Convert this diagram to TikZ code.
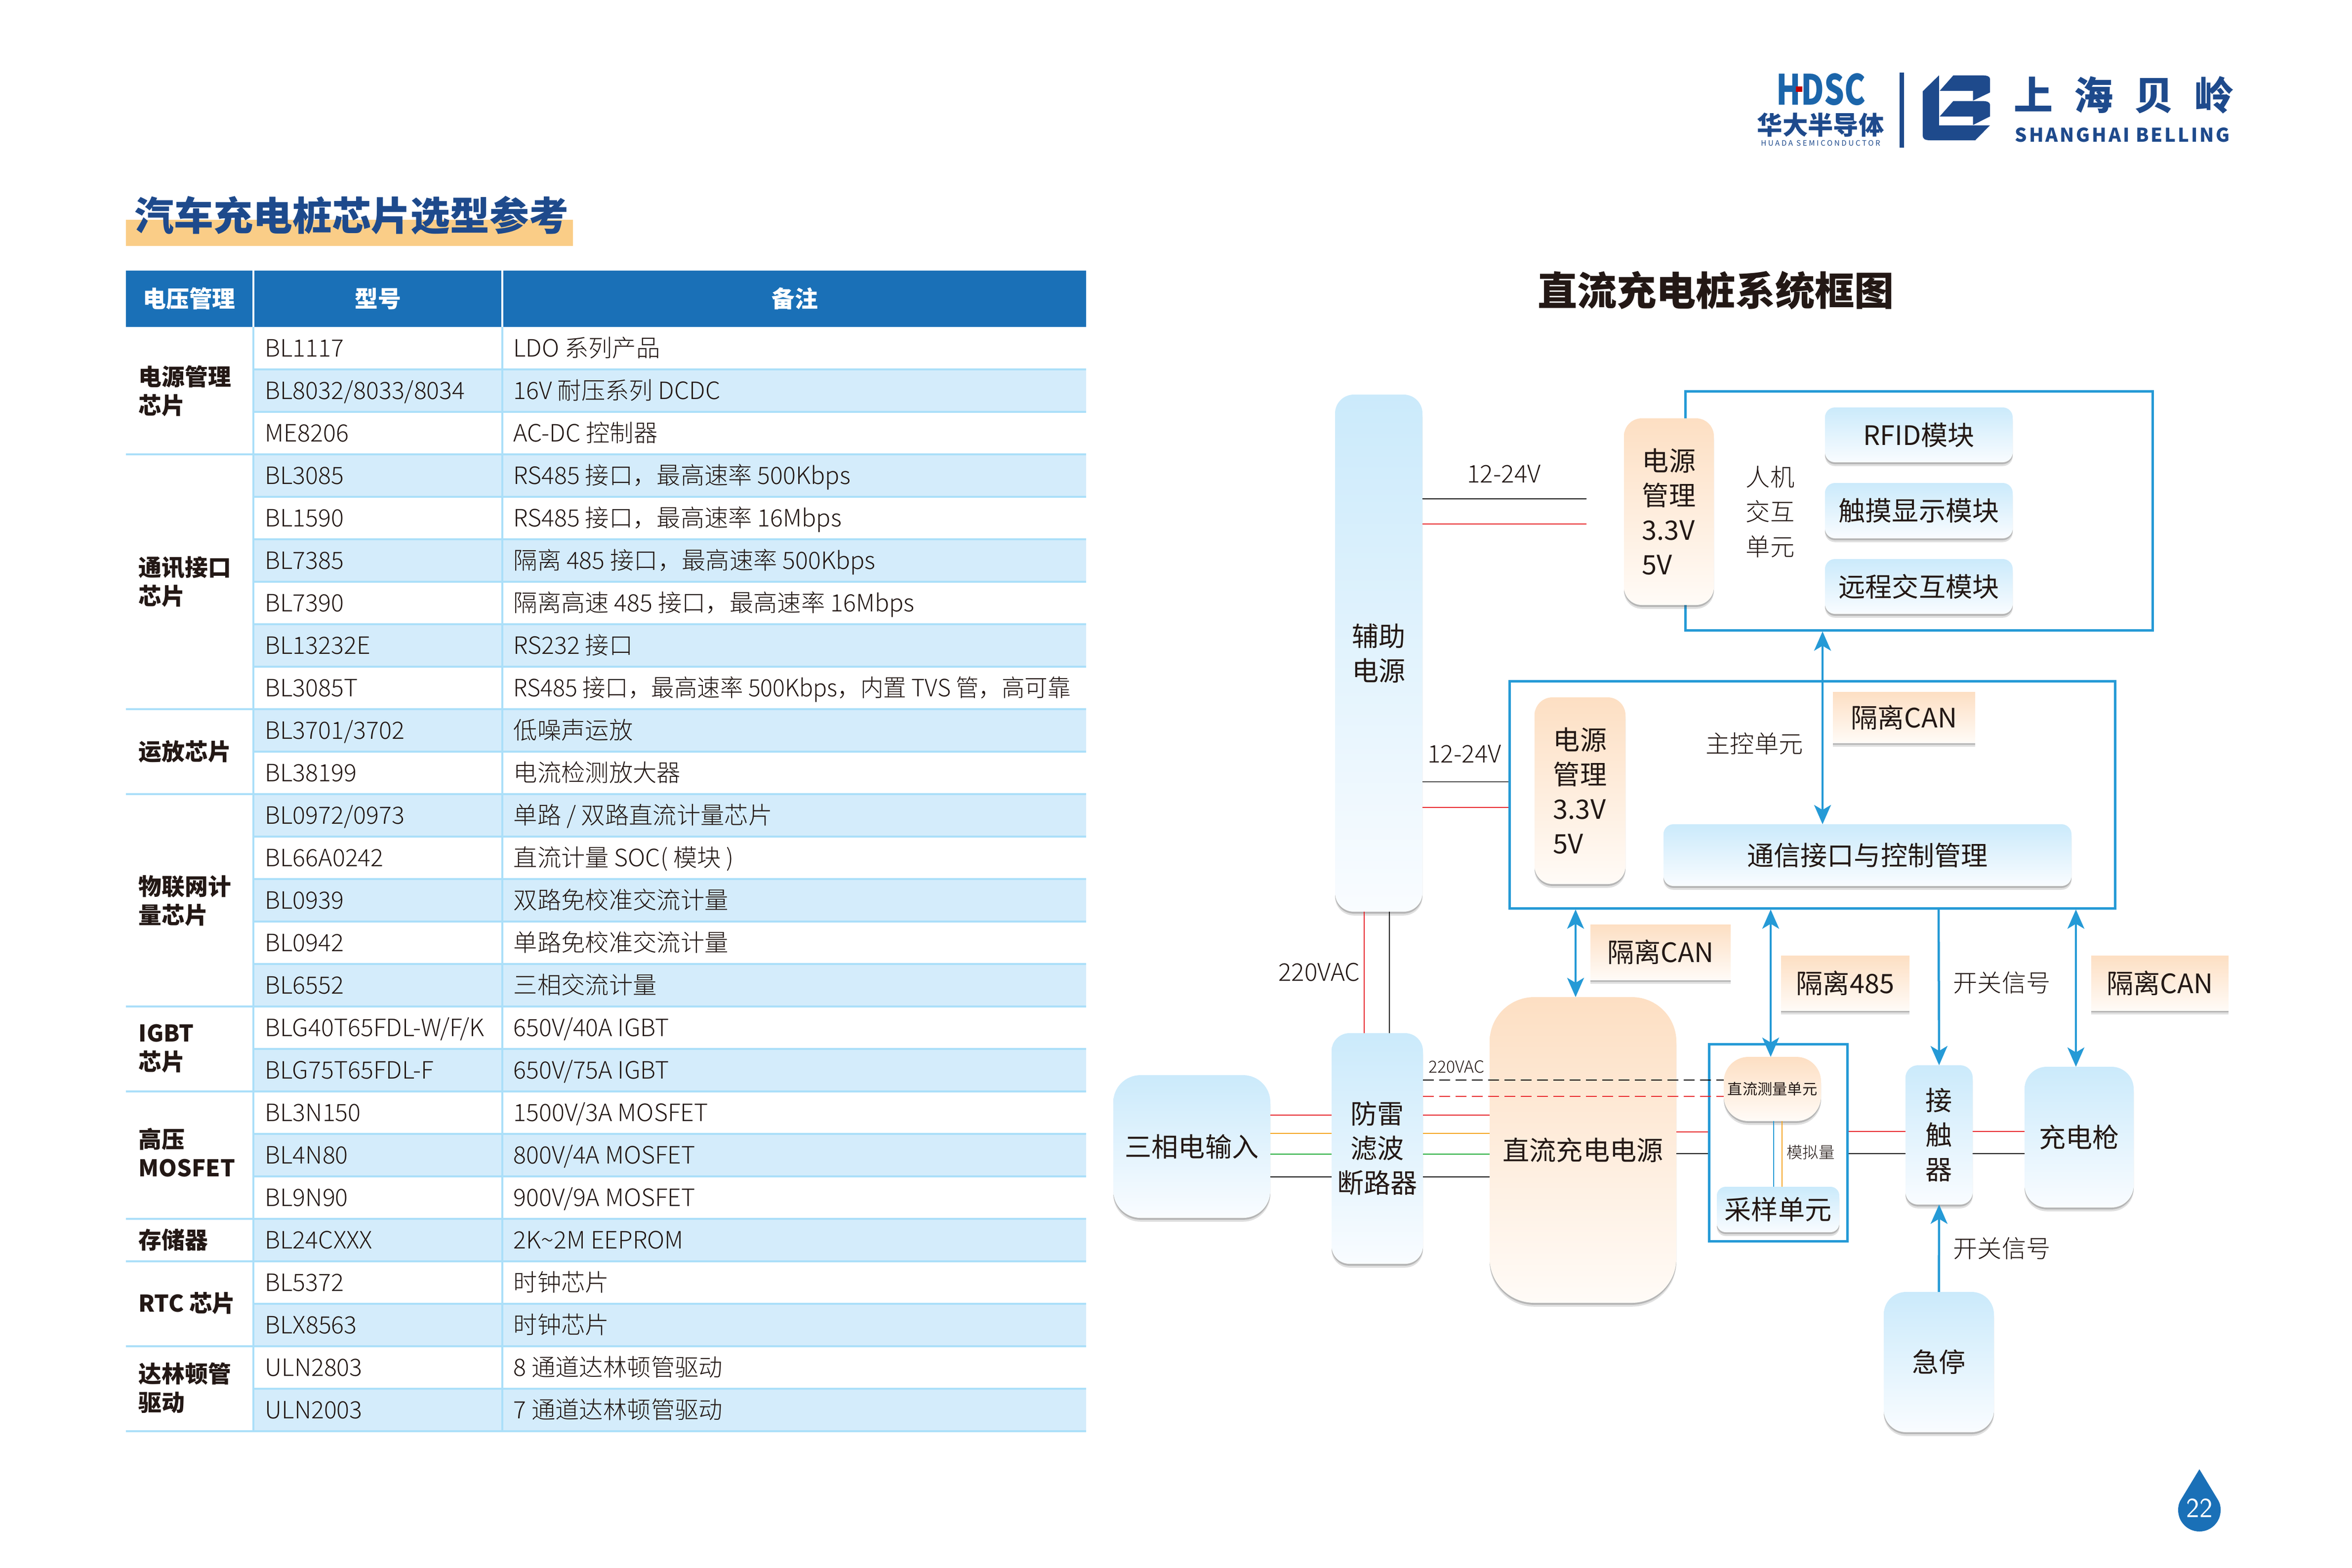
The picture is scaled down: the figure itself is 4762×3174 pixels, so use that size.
\documentclass[tikz,border=0pt]{standalone}
\usepackage{fontspec}
\usepackage{graphicx}
\setmainfont{Noto Sans CJK SC}
\newfontfamily\lightcjk{Noto Sans CJK SC Light}
\usetikzlibrary{arrows.meta,shadows}

\definecolor{inkdark}{HTML}{231815}
\definecolor{brandblue}{HTML}{1E4A8C}
\definecolor{hdblue}{HTML}{1A70B7}
\definecolor{rulecyan}{HTML}{ABDFF9}
\definecolor{stripecyan}{HTML}{D4ECFB}
\definecolor{titlesand}{HTML}{FACD87}
\definecolor{sigblue}{HTML}{259AD6}
\definecolor{skytop}{HTML}{CBEAFB}
\definecolor{skyend}{HTML}{F9FCFF}
\definecolor{peachtop}{HTML}{FDDFC3}
\definecolor{peachend}{HTML}{FFFBF7}
\definecolor{wirered}{HTML}{E8252B}
\definecolor{wireamber}{HTML}{F5A623}
\definecolor{wiregreen}{HTML}{22AC38}

\tikzset{
  softshadow/.style={drop shadow={shadow xshift=0pt,shadow yshift=-2.2pt,opacity=.18,fill=black!70},
                     drop shadow={shadow xshift=0pt,shadow yshift=-1.1pt,opacity=.28,fill=black!70}},
  flatbox/.style={inner sep=0pt,outer sep=0pt,align=center,text=inkdark},
  skybox/.style={flatbox,softshadow,top color=skytop,bottom color=skyend,
                 font=\fontsize{15.4pt}{19.9pt}\selectfont},
  peachbox/.style={flatbox,softshadow,top color=peachtop,bottom color=peachend,
                 font=\fontsize{15.4pt}{19.9pt}\selectfont},
  frameunit/.style={draw=sigblue,line width=.05cm,inner sep=0pt},
  wirelabel/.style={inner sep=0pt,text=inkdark,align=center,font=\lightcjk\fontsize{14pt}{20pt}\selectfont},
  wire/.style={line width=.02cm},
  blackwire/.style={wire,draw=black},
  redwire/.style={wire,draw=wirered},
  amberwire/.style={wire,draw=wireamber},
  greenwire/.style={wire,draw=wiregreen},
  sigwire/.style={draw=sigblue,line width=.045cm},
  sigone/.style={sigwire,-{Stealth[length=.39cm,width=.34cm,inset=.1cm]}},
  sigboth/.style={sigwire,{Stealth[length=.39cm,width=.34cm,inset=.1cm]}-{Stealth[length=.39cm,width=.34cm,inset=.1cm]}},
  headcell/.style={fill=hdblue,inner sep=0pt,outer sep=0pt,text=white,
                   font=\bfseries\fontsize{13.3pt}{16pt}\selectfont},
  groupcell/.style={anchor=west,inner sep=0pt,align=left,text=inkdark,
                    font=\bfseries\fontsize{13.3pt}{16.5pt}\selectfont},
  rowcell/.style={anchor=base west,inner sep=0pt,text=inkdark,
                  font=\lightcjk\fontsize{13.75pt}{16pt}\selectfont},
  tablerule/.style={draw=rulecyan,line width=.04cm},
}

\begin{document}
\begin{tikzpicture}[x=.01cm,y=-.01cm]
    \useasboundingbox (0,0) rectangle (4762,3174);

    % box from its two corners: name, style, x0, y0, x1, y1, text
    \def\blk#1#2#3#4#5#6#7{%
        \node[#2,minimum width=(#5-#3)*.01cm,minimum height=(#6-#4)*.01cm]
            (#1) at ({(#3+#5)/2},{(#4+#6)/2}) {#7};%
    }
    % one line of the table: row, part, note
    \def\tabrow#1#2#3{%
        \pgfmathsetmacro\rowtop{662+86*#1}%
        \pgfmathsetmacro\rowbase{\rowtop+60}%
        \ifodd#1 \fill[stripecyan] (514,\rowtop) rectangle (2199,\rowtop+86);\fi
        \node[rowcell] (part#1) at (536,\rowbase) {#2};%
        \node[rowcell] (note#1) at (1039,\rowbase) {#3};%
    }

    % -- title --
    \blk{titlebar}{fill=titlesand,inner sep=0pt}{255}{445}{1160}{498}{}
    \node[inner sep=0pt,text=brandblue,font=\bfseries\fontsize{22.7pt}{28pt}\selectfont]
        (pagetitle) at (712,436) {汽车充电桩芯片选型参考};

    % -- logos --
    \node[inner sep=0pt,text=hdblue!70!brandblue,font=\bfseries\fontsize{24pt}{28pt}\selectfont]
        (hdsc) at (3687,181) {\scalebox{.76}[1]{HDSC}};
    \fill[red!75!black] (3636,175) rectangle (3649,186);
    \node[inner sep=0pt,text=brandblue,font=\bfseries\fontsize{14.6pt}{18pt}\selectfont]
        (hdcn) at (3686,253) {华大半导体};
    \node[inner sep=0pt,text=brandblue,font=\addfontfeature{LetterSpace=24}\fontsize{4.3pt}{6pt}\selectfont]
        (hden) at (3686,290) {HUADA SEMICONDUCTOR};
    \fill[brandblue] (3846,147) rectangle (3855,299);
    \begin{scope}[shift={(3450,100)},x=.00765cm,y=-.00333cm]
        \fill[brandblue] (622,158) -- (579,255) -- (579,525)
            .. controls (579,545) and (585,553) .. (600,553)
            -- (718,553) -- (757,462) -- (622,462) -- cycle;
        \fill[brandblue] (660,158) -- (735,158)
            .. controls (750,158) and (757,165) .. (757,180)
            -- (757,262) -- (712,312) -- (712,252) -- (624,252) -- cycle;
        \fill[brandblue] (660,314) -- (735,314)
            .. controls (750,314) and (757,322) .. (757,337)
            -- (757,408) -- (712,460) -- (712,408) -- (624,408) -- cycle;
    \end{scope}
    \node[anchor=west,inner sep=0pt,text=brandblue,font=\bfseries\addfontfeature{LetterSpace=54}\fontsize{22.5pt}{26pt}\selectfont]
        (blcn) at (4077,192) {上海贝岭};
    \node[anchor=west,inner sep=0pt,text=brandblue,font=\bfseries\addfontfeature{LetterSpace=10}\fontsize{10.9pt}{14pt}\selectfont]
        (blen) at (4079,273) {SHANGHAI BELLING};

    % -- table --
    \blk{headgroup}{headcell}{255}{548}{511}{662}{电压管理}
    \blk{headpart}{headcell}{515}{548}{1015}{662}{型号}
    \blk{headnote}{headcell}{1019}{548}{2199}{662}{备注}

    \tabrow{0}{BL1117}{LDO 系列产品}
    \tabrow{1}{BL8032/8033/8034}{16V 耐压系列 DCDC}
    \tabrow{2}{ME8206}{AC-DC 控制器}
    \tabrow{3}{BL3085}{RS485 接口，最高速率 500Kbps}
    \tabrow{4}{BL1590}{RS485 接口，最高速率 16Mbps}
    \tabrow{5}{BL7385}{隔离 485 接口，最高速率 500Kbps}
    \tabrow{6}{BL7390}{隔离高速 485 接口，最高速率 16Mbps}
    \tabrow{7}{BL13232E}{RS232 接口}
    \tabrow{8}{BL3085T}{\scalebox{.962}[1]{RS485 接口，最高速率 500Kbps，内置 TVS 管，高可靠}}
    \tabrow{9}{BL3701/3702}{低噪声运放}
    \tabrow{10}{BL38199}{电流检测放大器}
    \tabrow{11}{BL0972/0973}{单路 / 双路直流计量芯片}
    \tabrow{12}{BL66A0242}{直流计量 SOC( 模块 )}
    \tabrow{13}{BL0939}{双路免校准交流计量}
    \tabrow{14}{BL0942}{单路免校准交流计量}
    \tabrow{15}{BL6552}{三相交流计量}
    \tabrow{16}{BLG40T65FDL-W/F/K}{650V/40A IGBT}
    \tabrow{17}{BLG75T65FDL-F}{650V/75A IGBT}
    \tabrow{18}{BL3N150}{1500V/3A MOSFET}
    \tabrow{19}{BL4N80}{800V/4A MOSFET}
    \tabrow{20}{BL9N90}{900V/9A MOSFET}
    \tabrow{21}{BL24CXXX}{2K\textasciitilde2M EEPROM}
    \tabrow{22}{BL5372}{时钟芯片}
    \tabrow{23}{BLX8563}{时钟芯片}
    \tabrow{24}{ULN2803}{8 通道达林顿管驱动}
    \tabrow{25}{ULN2003}{7 通道达林顿管驱动}

    \foreach \rulerow in {1,...,26}
        \draw[tablerule] (513,{662+86*\rulerow}) -- (2199,{662+86*\rulerow});
    \foreach \rulerow in {3,9,11,16,18,21,22,24,26}
        \draw[tablerule] (255,{662+86*\rulerow}) -- (513,{662+86*\rulerow});
    \draw[tablerule] (513,662) -- (513,2900);
    \draw[tablerule] (1017,662) -- (1017,2900);

    \node[groupcell] (grouppower) at (280,792) {电源管理\\芯片};
    \node[groupcell] (groupcomm) at (280,1178) {通讯接口\\芯片};
    \node[groupcell] (groupopamp) at (280,1522) {运放芯片};
    \node[groupcell] (groupiot) at (280,1824) {物联网计\\量芯片};
    \node[groupcell] (groupigbt) at (280,2123) {IGBT\\芯片};
    \node[groupcell] (groupmos) at (280,2334) {高压\\MOSFET};
    \node[groupcell] (groupmem) at (280,2511) {存储器};
    \node[groupcell] (grouprtc) at (280,2639) {RTC 芯片};
    \node[groupcell] (groupdrv) at (280,2810) {达林顿管\\驱动};

    % -- chart title --
    \node[inner sep=0pt,text=inkdark,font=\bfseries\fontsize{22.8pt}{26pt}\selectfont]
        (charttitle) at (3474,588) {直流充电桩系统框图};

    % -- frames first, the boxes lie over them --
    \blk{hmiframe}{frameunit}{3412}{792}{4358}{1276}{}
    \blk{mainframe}{frameunit}{3056}{1379}{4282}{1839}{}
    \blk{sampleframe}{frameunit}{3460}{2114}{3740}{2513}{}

    % -- boxes --
    \blk{auxsupply}{skybox,rounded corners=.38cm}{2703}{799}{2880}{1846}{辅助\\电源}
    \blk{hmipower}{peachbox,align=left,rounded corners=.36cm}{3288}{847}{3470}{1225}{电源\\管理\\3.3V\\5V}
    \blk{rfid}{skybox,rounded corners=.2cm}{3695}{825}{4075}{936}{RFID模块}
    \blk{touch}{skybox,rounded corners=.2cm}{3695}{978}{4075}{1090}{触摸显示模块}
    \blk{remote}{skybox,rounded corners=.2cm}{3695}{1132}{4075}{1243}{远程交互模块}
    \blk{mainpower}{peachbox,align=left,rounded corners=.36cm}{3107}{1412}{3291}{1790}{电源\\管理\\3.3V\\5V}
    \blk{canone}{peachbox}{3711}{1401}{3999}{1504}{隔离CAN}
    \blk{commctl}{skybox,rounded corners=.2cm}{3368}{1669}{4194}{1794}{通信接口与控制管理}
    \blk{threephase}{skybox,rounded corners=.55cm}{2254}{2177}{2572}{2466}{三相电输入}
    \blk{filter}{skybox,rounded corners=.36cm}{2696}{2092}{2881}{2559}{防雷\\滤波\\断路器}
    \blk{dcsupply}{peachbox,rounded corners=.9cm}{3016}{2019}{3394}{2638}{直流充电电源}
    \blk{cantwo}{peachbox}{3220}{1872}{3504}{1984}{隔离CAN}
    \blk{isofive}{peachbox}{3606}{1935}{3866}{2046}{隔离485}
    \blk{canthree}{peachbox}{4234}{1935}{4512}{2046}{隔离CAN}
    \blk{dcmeter}{peachbox,rounded corners=.5cm,font=\fontsize{8.6pt}{11pt}\selectfont}{3490}{2140}{3687}{2270}{直流测量单元}
    \blk{sampler}{skybox,rounded corners=.18cm}{3476}{2403}{3724}{2495}{采样单元}
    \blk{contactor}{skybox,rounded corners=.25cm}{3858}{2157}{3994}{2439}{接\\触\\器}
    \blk{gun}{skybox,rounded corners=.45cm}{4099}{2160}{4320}{2445}{充电枪}
    \blk{estop}{skybox,rounded corners=.45cm}{3814}{2616}{4037}{2900}{急停}

    % -- free labels --
    \node[wirelabel] (hmilabel) at (3584,1036) {人机\\交互\\单元};
    \node[wirelabel] (mainlabel) at (3552,1506) {主控单元};
    \node[wirelabel] (volttop) at (3045,960) {12-24V};
    \node[wirelabel] (voltmid) at (2965,1527) {12-24V};
    \node[wirelabel] (vacbig) at (2671,1969) {220VAC};
    \node[wirelabel,font=\lightcjk\fontsize{9.6pt}{12pt}\selectfont] (vacsmall) at (2949,2160) {220VAC};
    \node[wirelabel,font=\lightcjk\fontsize{9.2pt}{12pt}\selectfont] (analog) at (3666,2333) {模拟量};
    \node[wirelabel] (switchtop) at (4053,1990) {开关信号};
    \node[wirelabel] (switchlow) at (4053,2528) {开关信号};

    % -- wires --
    \coordinate (hmiblack) at (3212,1010);
    \coordinate (hmired) at (3212,1061);
    \draw[blackwire] (auxsupply.east |- hmiblack) -- (hmiblack);
    \draw[redwire] (auxsupply.east |- hmired) -- (hmired);
    \draw[blackwire,draw opacity=.7] (auxsupply.east |- 0,1583) -- (mainframe.west |- 0,1583);
    \draw[redwire] (auxsupply.east |- 0,1635) -- (mainframe.west |- 0,1635);
    \draw[redwire] (auxsupply.south -| 2762,0) -- (filter.north -| 2762,0);
    \draw[blackwire] (auxsupply.south -| 2813,0) -- (filter.north -| 2813,0);

    \draw[redwire] (threephase.east |- 0,2258) -- (filter.west |- 0,2258);
    \draw[amberwire] (threephase.east |- 0,2295) -- (filter.west |- 0,2295);
    \draw[greenwire] (threephase.east |- 0,2337) -- (filter.west |- 0,2337);
    \draw[blackwire] (threephase.east |- 0,2383) -- (filter.west |- 0,2383);
    \draw[redwire] (filter.east |- 0,2258) -- (dcsupply.west |- 0,2258);
    \draw[amberwire] (filter.east |- 0,2295) -- (dcsupply.west |- 0,2295);
    \draw[greenwire] (filter.east |- 0,2337) -- (dcsupply.west |- 0,2337);
    \draw[blackwire] (filter.east |- 0,2383) -- (dcsupply.west |- 0,2383);

    \draw[blackwire,dash pattern=on .22cm off .11cm] (filter.east |- 0,2187) -- (dcmeter.west |- 0,2187);
    \draw[redwire,dash pattern=on .22cm off .11cm] (filter.east |- 0,2220) -- (dcmeter.west |- 0,2220);

    \draw[redwire] (dcsupply.east |- 0,2292) -- (sampleframe.west |- 0,2292);
    \draw[blackwire] (dcsupply.east |- 0,2336) -- (sampleframe.west |- 0,2336);
    \draw[redwire] (sampleframe.east |- 0,2291) -- (contactor.west |- 0,2291);
    \draw[blackwire] (sampleframe.east |- 0,2336) -- (contactor.west |- 0,2336);
    \draw[redwire] (contactor.east |- 0,2291) -- (gun.west |- 0,2291);
    \draw[blackwire] (contactor.east |- 0,2336) -- (gun.west |- 0,2336);
    \draw[wire,draw=sigblue] (dcmeter.south -| 3591,0) -- (sampler.north -| 3591,0);
    \draw[amberwire] (dcmeter.south -| 3608,0) -- (sampler.north -| 3608,0);

    % -- signal arrows --
    \draw[sigboth] (hmiframe.south -| 3690,0) -- (commctl.north -| 3690,0);
    \draw[sigboth] (mainframe.south -| 3190,0) -- (dcsupply.north -| 3190,0);
    \draw[sigboth] (mainframe.south -| 3585,0) -- (dcmeter.north -| 3585,0);
    \draw[sigone] (mainframe.south -| 3925,0) -- (contactor.north);
    \draw[sigboth] (mainframe.south -| 4203,0) -- (gun.north -| 4203,0);
    \draw[sigone] (estop.north) -- (contactor.south);

    % -- page drop --
    \fill[hdblue] (4453,2975) -- (4416,3036) .. controls (4411,3044) and (4410,3050) .. (4410,3058)
        arc[start angle=180,end angle=0,radius=43] .. controls (4496,3050) and (4495,3044) .. (4490,3036) -- cycle;
    \node[inner sep=0pt,text=white,font=\sffamily\fontsize{16pt}{18pt}\selectfont] (pagenum) at (4453,3054) {22};
\end{tikzpicture}
\end{document}
